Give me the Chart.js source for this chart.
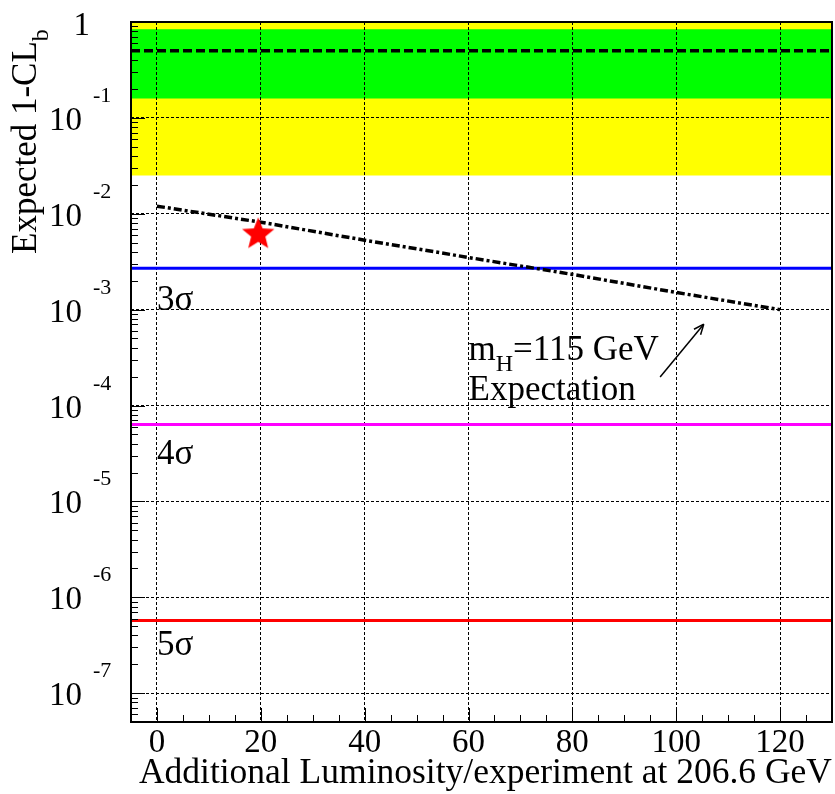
<!DOCTYPE html>
<html>
<head>
<meta charset="utf-8">
<script src="https://cdn.jsdelivr.net/npm/chart.js@4.4.1/dist/chart.umd.min.js"></script>
<style>
  html, body { margin: 0; padding: 0; background: #fff; }
  #wrap { width: 835px; height: 794px; position: relative; background: #fff; }
</style>
</head>
<body>
<div id="wrap"><canvas id="miGrafica"></canvas></div>
<script>
// rango de los ejes
var xMin = -5, xMax = 130
var yMin = 5e-8, yMax = 1
var xTicks = [0, 20, 40, 60, 80, 100, 120]
var yDecades = [1e-7, 1e-6, 1e-5, 1e-4, 1e-3, 1e-2, 1e-1, 1]
var yExponents = [-7, -6, -5, -4, -3, -2, -1, 0]

// expectativa para mH = 115 GeV
var lumi = [0, 20, 40, 60, 80, 100, 120]
var expected = [0.012, 0.00816, 0.0053, 0.0035, 0.00233, 0.00151, 0.001]

// bandas de 1 y 2 sigma y mediana
var bandYellow = [0.025, 0.977]
var bandGreen = [0.159, 0.841]
var median = 0.5

// niveles de significancia
var sigmaNames = ['3σ', '4σ', '5σ']
var sigmaValues = [2.7e-3, 6.33e-5, 5.73e-7]
var sigmaColors = ['#0000ff', '#ff00ff', '#ff0000']

// punto medido (estrella)
var starX = [19.5]
var starY = [0.0061]

// flecha hacia la linea de expectativa
var arrowX = [96.9, 105.3]
var arrowY = [1.98e-4, 7.05e-4]

var serif = '"Liberation Serif", "Times New Roman", serif'

function hline(v) { // linea horizontal de lado a lado
  return [{ x: xMin, y: v }, { x: xMax, y: v }]
}

function starCanvas(r, color) { // estrella rellena para usar como pointStyle
  var c = document.createElement('canvas')
  c.width = c.height = 2 * r + 2
  var g = c.getContext('2d')
  g.beginPath()
  for (var i = 0; i < 10; i++) {
    var rad = i % 2 == 0 ? r : r * 0.44
    var a = -Math.PI / 2 + i * Math.PI / 5
    g.lineTo(r + 1 + rad * Math.cos(a), r + 1 + rad * Math.sin(a))
  }
  g.closePath()
  g.fillStyle = color
  g.fill()
  return c
}

var datasets = []
// bandas (se rellenan antes de dibujar la rejilla)
datasets.push({ data: hline(bandYellow[1]), fill: 1, backgroundColor: '#ffff00', borderWidth: 0, order: 20 })
datasets.push({ data: hline(bandYellow[0]), fill: false, borderWidth: 0, order: 21 })
datasets.push({ data: hline(bandGreen[1]), fill: 3, backgroundColor: '#00ff00', borderWidth: 0, order: 18 })
datasets.push({ data: hline(bandGreen[0]), fill: false, borderWidth: 0, order: 19 })
// mediana
datasets.push({ data: hline(median), borderColor: '#000', borderWidth: 3.5, borderDash: [9, 4], order: 5 })
// lineas de sigma
sigmaValues.forEach(function (v, i) {
  datasets.push({ data: hline(v), borderColor: sigmaColors[i], borderWidth: 3, order: 5 })
})
// expectativa
datasets.push({
  data: lumi.map(function (l, i) { return { x: l, y: expected[i] } }),
  borderColor: '#000', borderWidth: 3.5, borderDash: [8, 3, 3, 3], order: 4
})
// flecha
datasets.push({
  data: arrowX.map(function (v, i) { return { x: v, y: arrowY[i] } }),
  borderColor: '#000', borderWidth: 1.5, order: 3
})
// estrella
datasets.push({
  data: starX.map(function (v, i) { return { x: v, y: starY[i] } }),
  showLine: false, pointStyle: starCanvas(17, '#ff0000'), pointRadius: 17, order: 1
})
datasets.forEach(function (d) {
  if (d.showLine === undefined) d.showLine = true
  if (d.pointRadius === undefined) d.pointRadius = 0
})

var decoraciones = {
  id: 'decoraciones',
  afterDatasetsDraw: function (chart) {
    var ctx = chart.ctx, a = chart.chartArea
    var x = chart.scales.x, y = chart.scales.y
    ctx.save()
    ctx.strokeStyle = '#000'
    ctx.fillStyle = '#000'
    ctx.setLineDash([])

    function seg(x1, y1, x2, y2) {
      ctx.beginPath(); ctx.moveTo(x1, y1); ctx.lineTo(x2, y2); ctx.stroke()
    }

    // marcas del eje x (cada 5, mayores cada 20)
    ctx.lineWidth = 1
    for (var v = xMin; v <= xMax; v += 5) {
      var px = Math.round(x.getPixelForValue(v)) + 0.5
      seg(px, a.bottom, px, a.bottom - (v % 20 == 0 ? 14 : 7))
    }
    // marcas del eje y logaritmico
    for (var k = -8; k <= 0; k++) {
      for (var m = 1; m <= 9; m++) {
        var val = m * Math.pow(10, k)
        if (val < yMin || val > yMax) continue
        var py = Math.round(y.getPixelForValue(val)) + 0.5
        seg(a.left, py, a.left + (m == 1 ? 14 : 7), py)
      }
    }

    // etiquetas del eje y: 10 con exponente
    ctx.textBaseline = 'alphabetic'
    yDecades.forEach(function (d, i) {
      var py = y.getPixelForValue(d)
      if (yExponents[i] == 0) {
        ctx.font = '33px ' + serif
        ctx.textAlign = 'right'
        ctx.fillText('1', 90, py + 13)
      } else {
        ctx.font = '33px ' + serif
        ctx.textAlign = 'right'
        ctx.fillText('10', 82, py + 12)
        ctx.font = '22px ' + serif
        ctx.textAlign = 'left'
        ctx.fillText(String(yExponents[i]), 93, py - 16)
      }
    })

    // titulo del eje y (rotado)
    ctx.save()
    ctx.translate(36, 254)
    ctx.rotate(-Math.PI / 2)
    ctx.font = '35px ' + serif
    ctx.textAlign = 'left'
    var main = 'Expected 1-CL'
    ctx.fillText(main, 0, 0)
    var wMain = ctx.measureText(main).width
    ctx.font = '24px ' + serif
    ctx.fillText('b', wMain, 12)
    ctx.restore()

    // titulo del eje x
    ctx.font = '35.5px ' + serif
    ctx.textAlign = 'right'
    ctx.fillText('Additional Luminosity/experiment at 206.6 GeV', a.right, 783)

    // etiquetas de sigma
    var off = [42, 39, 35]
    ctx.font = '35px ' + serif
    ctx.textAlign = 'left'
    sigmaValues.forEach(function (v, i) {
      ctx.fillText(sigmaNames[i], x.getPixelForValue(0), y.getPixelForValue(v) + off[i])
    })

    // texto de la expectativa
    var tx = x.getPixelForValue(60), ty = y.getPixelForValue(1e-3) + 50
    ctx.font = '35px ' + serif
    ctx.fillText('m', tx, ty)
    var wm = ctx.measureText('m').width
    ctx.font = '24px ' + serif
    ctx.fillText('H', tx + wm, ty + 11)
    var wh = ctx.measureText('H').width
    ctx.font = '35px ' + serif
    ctx.fillText('=115 GeV', tx + wm + wh, ty)
    ctx.fillText('Expectation', tx, ty + 40)

    // punta de la flecha
    var x1 = x.getPixelForValue(arrowX[0]), y1 = y.getPixelForValue(arrowY[0])
    var x2 = x.getPixelForValue(arrowX[1]), y2 = y.getPixelForValue(arrowY[1])
    var ang = Math.atan2(y2 - y1, x2 - x1)
    ctx.lineWidth = 1.5
    seg(x2, y2, x2 - 11 * Math.cos(ang - 0.4), y2 - 11 * Math.sin(ang - 0.4))
    seg(x2, y2, x2 - 11 * Math.cos(ang + 0.4), y2 - 11 * Math.sin(ang + 0.4))

    // marco
    ctx.lineWidth = 2
    ctx.strokeRect(a.left, a.top, a.right - a.left, a.bottom - a.top)
    ctx.restore()
  }
}

new Chart('miGrafica', {
  type: 'scatter',
  data: { datasets: datasets },
  options: {
    responsive: true,
    maintainAspectRatio: false,
    animation: false,
    layout: { autoPadding: false, padding: { left: 131, right: 3, top: 22, bottom: 28.4 } },
    plugins: {
      legend: { display: false },
      tooltip: { enabled: false },
      filler: { drawTime: 'beforeDraw' }
    },
    scales: {
      x: {
        type: 'linear',
        min: xMin,
        max: xMax,
        afterBuildTicks: function (scale) {
          scale.ticks = xTicks.map(function (v) { return { value: v } })
        },
        ticks: {
          autoSkip: false,
          maxRotation: 0,
          padding: 2,
          color: '#000',
          font: { family: serif, size: 33 }
        },
        grid: { color: '#000', lineWidth: 1, drawTicks: false },
        border: { display: false, dash: [3, 2] }
      },
      y: {
        type: 'logarithmic',
        min: yMin,
        max: yMax,
        afterBuildTicks: function (scale) {
          scale.ticks = yDecades.map(function (v) { return { value: v } })
        },
        ticks: { display: false },
        grid: { color: '#000', lineWidth: 1, drawTicks: false },
        border: { display: false, dash: [3, 2] }
      }
    }
  },
  plugins: [decoraciones]
})
</script>
</body>
</html>
